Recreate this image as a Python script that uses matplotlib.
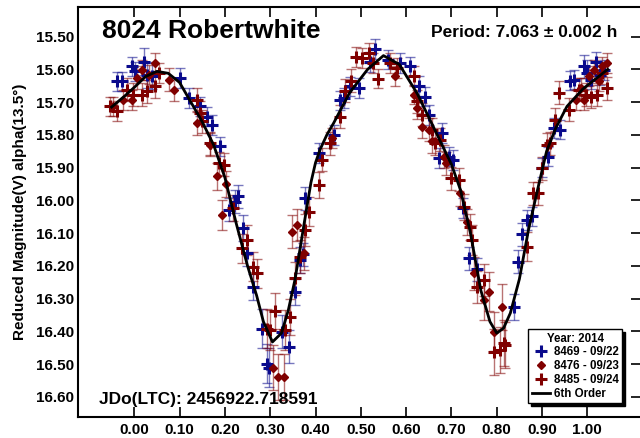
import matplotlib
matplotlib.use('Agg')
import matplotlib.pyplot as plt

plt.rcParams['font.family'] = ['Liberation Sans', 'DejaVu Sans']
plt.rcParams['font.weight'] = 'bold'

# session 8469 - 09/22 (blue crosses)
b_ph = [-0.038, -0.027, -0.005, 0.002, 0.021, 0.028, 0.039, 0.100, 0.120, 0.146, 0.160, 0.172, 0.190,
        0.208, 0.223, 0.230, 0.241, 0.249, 0.263, 0.282, 0.293, 0.298, 0.326, 0.341, 0.355, 0.366, 0.372, 0.377,
        0.407, 0.440, 0.455, 0.462, 0.477, 0.497, 0.521, 0.532, 0.561, 0.587, 0.609, 0.628, 0.642, 0.650, 0.679, 0.672, 0.694, 0.703, 0.725,
        0.739, 0.756, 0.837, 0.848, 0.856, 0.867, 0.878, 0.900, 0.913, 0.926, 0.940, 0.962, 0.970, 0.992, 1.000, 1.007, 1.018, 1.027, 1.036]
b_mag = [15.637, 15.637, 15.591, 15.606, 15.576, 15.616, 15.621, 15.626, 15.687, 15.713, 15.744, 15.769, 15.835,
         16.029, 16.004, 15.988, 16.085, 16.161, 16.264, 16.391, 16.498, 16.510, 16.401, 16.447, 16.279, 16.182, 16.165, 15.993,
         15.856, 15.800, 15.695, 15.687, 15.652, 15.657, 15.578, 15.537, 15.570, 15.581, 15.591, 15.650, 15.683, 15.739, 15.795, 15.871, 15.866, 15.876, 16.024,
         16.177, 16.210, 16.325, 16.187, 16.103, 16.060, 16.049, 15.900, 15.866, 15.779, 15.784, 15.634, 15.631, 15.590, 15.611, 15.631, 15.576, 15.618, 15.601]
b_err = [0.03, 0.03, 0.03, 0.03, 0.04, 0.04, 0.04, 0.03, 0.03, 0.03, 0.03, 0.03, 0.03,
         0.035, 0.035, 0.035, 0.04, 0.04, 0.04, 0.06, 0.06, 0.06, 0.05, 0.05, 0.04, 0.04, 0.035, 0.035,
         0.03, 0.03, 0.03, 0.03, 0.03, 0.03, 0.03, 0.03, 0.03, 0.03, 0.03, 0.03, 0.03, 0.03, 0.03, 0.03, 0.03, 0.03, 0.03,
         0.035, 0.035, 0.04, 0.035, 0.035, 0.03, 0.03, 0.03, 0.03, 0.03, 0.03, 0.03, 0.03, 0.035, 0.04, 0.03, 0.03, 0.03, 0.03]

# session 8476 - 09/23 (diamonds)
d_ph = [-0.046, -0.024, -0.005, 0.006, 0.017, 0.032, 0.046, 0.076, 0.087, 0.138, 0.168, 0.183, 0.194, 0.203,
        0.306, 0.318, 0.330, 0.348, 0.359, 0.374,
        0.436, 0.576, 0.617, 0.624, 0.635, 0.650, 0.657, 0.683, 0.687, 0.720, 0.734,
        0.749, 0.771, 0.782, 0.793, 0.812,
        0.974, 0.985, 0.992, 1.003, 1.014, 1.025, 1.032, 1.043]
d_mag = [15.713, 15.693, 15.693, 15.626, 15.601, 15.616, 15.581, 15.631, 15.662, 15.764, 15.830, 15.927, 16.044, 15.950,
         16.510, 16.539, 16.539, 16.095, 16.075, 16.161,
         15.810, 15.621, 15.677, 15.718, 15.776, 15.784, 15.820, 15.866, 15.886, 15.978, 16.065,
         16.223, 16.304, 16.279, 16.401, 16.325,
         15.693, 15.657, 15.693, 15.621, 15.601, 15.637, 15.591, 15.581]
d_err = [0.03, 0.03, 0.03, 0.035, 0.03, 0.03, 0.03, 0.035, 0.035, 0.035, 0.035, 0.04, 0.045, 0.04,
         0.07, 0.07, 0.07, 0.05, 0.05, 0.05,
         0.03, 0.03, 0.03, 0.035, 0.035, 0.035, 0.035, 0.035, 0.035, 0.04, 0.04,
         0.05, 0.06, 0.06, 0.06, 0.07,
         0.03, 0.03, 0.03, 0.03, 0.03, 0.03, 0.03, 0.03]

# session 8485 - 09/24 (red crosses)
r_ph = [-0.053, -0.038, -0.016, -0.002, 0.017, 0.028, 0.046, 0.054, 0.138, 0.146, 0.149, 0.168, 0.186, 0.197, 0.219,
        0.238, 0.249, 0.263, 0.271, 0.293, 0.300, 0.311, 0.333, 0.344, 0.355, 0.366, 0.377, 0.385, 0.407,
        0.414, 0.433, 0.453, 0.466, 0.479, 0.490, 0.503, 0.517, 0.528, 0.539, 0.565, 0.580, 0.617, 0.624, 0.635, 0.657, 0.664, 0.675, 0.698, 0.716, 0.727, 0.742,
        0.745, 0.756, 0.771, 0.793, 0.808, 0.815, 0.819, 0.867,
        0.881, 0.892, 0.900, 0.911, 0.918, 0.929, 0.937, 0.959, 0.981, 0.996, 1.007, 1.021, 1.032, 1.043]
r_mag = [15.713, 15.728, 15.662, 15.677, 15.677, 15.667, 15.652, 15.611, 15.693, 15.733, 15.759, 15.825, 15.886, 15.891, 16.024,
         16.146, 16.121, 16.202, 16.223, 16.391, 16.396, 16.337, 16.396, 16.355, 16.238, 16.172, 16.090, 16.034, 15.953,
         15.876, 15.825, 15.744, 15.665, 15.634, 15.562, 15.565, 15.550, 15.580, 15.628, 15.580, 15.596, 15.621, 15.698, 15.739, 15.784, 15.825, 15.815, 15.932, 15.937, 16.019, 16.080,
         16.121, 16.264, 16.243, 16.462, 16.457, 16.435, 16.442, 16.141,
         15.978, 15.978, 15.902, 15.830, 15.825, 15.754, 15.672, 15.723, 15.662, 15.677, 15.683, 15.677, 15.611, 15.657]
r_err = [0.03, 0.03, 0.035, 0.035, 0.035, 0.035, 0.035, 0.03, 0.035, 0.035, 0.035, 0.035, 0.035, 0.035, 0.04,
         0.045, 0.045, 0.045, 0.045, 0.06, 0.06, 0.055, 0.06, 0.055, 0.05, 0.05, 0.05, 0.045, 0.04,
         0.035, 0.035, 0.035, 0.035, 0.035, 0.03, 0.03, 0.03, 0.03, 0.03, 0.03, 0.03, 0.03, 0.035, 0.035, 0.035, 0.035, 0.035, 0.035, 0.035, 0.04, 0.04,
         0.045, 0.05, 0.05, 0.07, 0.07, 0.07, 0.07, 0.045,
         0.035, 0.035, 0.035, 0.035, 0.035, 0.035, 0.035, 0.035, 0.035, 0.035, 0.035, 0.035, 0.035, 0.035]

# 6th order Fourier fit
fit_ph = [-0.05, -0.02, 0.00, 0.025, 0.05, 0.075, 0.10, 0.125, 0.15, 0.175, 0.20, 0.225, 0.25, 0.27, 0.285,
          0.305, 0.325, 0.34, 0.355, 0.375, 0.39, 0.40, 0.41, 0.425, 0.44, 0.475, 0.515, 0.55, 0.585, 0.625, 0.66, 0.70,
          0.72, 0.742, 0.765, 0.785, 0.80, 0.815, 0.83, 0.85, 0.87, 0.89, 0.91, 0.93, 0.955, 0.99, 1.045]
fit_mag = [15.715, 15.68, 15.655, 15.622, 15.606, 15.612, 15.64, 15.70, 15.76, 15.83, 15.93, 16.07, 16.20, 16.29, 16.37,
           16.432, 16.405, 16.335, 16.24, 16.07, 15.945, 15.885, 15.845, 15.80, 15.764, 15.672, 15.60, 15.558, 15.585, 15.675, 15.775, 15.89,
           15.968, 16.10, 16.275, 16.37, 16.405, 16.39, 16.344, 16.24, 16.09, 15.968, 15.85, 15.78, 15.713, 15.66, 15.60]

xticks = [0.0, 0.1, 0.2, 0.3, 0.4, 0.5, 0.6, 0.7, 0.8, 0.9, 1.0]
yticks = [15.5, 15.6, 15.7, 15.8, 15.9, 16.0, 16.1, 16.2, 16.3, 16.4, 16.5, 16.6]

blue = '#0a0a8c'
red = '#800000'

fig = plt.figure(figsize=(6.4, 4.38), dpi=100)
ax = fig.add_axes([0.122, 0.048, 0.880, 0.935])

ax.errorbar(b_ph, b_mag, yerr=b_err, fmt='none', ecolor=blue, alpha=0.55, elinewidth=1, capsize=3.5, capthick=1)
ax.errorbar(d_ph, d_mag, yerr=d_err, fmt='none', ecolor=red, alpha=0.55, elinewidth=1, capsize=3.5, capthick=1)
ax.errorbar(r_ph, r_mag, yerr=r_err, fmt='none', ecolor=red, alpha=0.55, elinewidth=1, capsize=3.5, capthick=1)

ax.plot(b_ph, b_mag, '+', color=blue, ms=8.5, mew=2.2, label='8469 - 09/22')
ax.plot(d_ph, d_mag, 'D', color=red, ms=4.5, label='8476 - 09/23')
ax.plot(r_ph, r_mag, '+', color=red, ms=8.5, mew=2.2, label='8485 - 09/24')
ax.plot(fit_ph, fit_mag, '-', color='black', lw=2, label='6th Order', zorder=5)

ax.set_xlim(-0.124, 1.119)
ax.set_ylim(16.661, 15.411)
ax.set_xticks(xticks)
ax.set_xticklabels([f'{t:.2f}' for t in xticks])
ax.set_yticks(yticks)
ax.set_yticklabels([f'{t:.2f}' for t in yticks])
ax.tick_params(axis='x', direction='in', top=True, bottom=True, length=7, width=1.2, labelsize=11, pad=4)
ax.tick_params(axis='y', direction='in', left=False, right=True, length=7, width=1.2, labelsize=11, pad=3)
for s in ax.spines.values():
    s.set_linewidth(1.5)

ax.set_ylabel('Reduced Magnitude(V) alpha(13.5°)', fontsize=11, fontweight='bold')
ax.yaxis.set_label_coords(-0.091, 0.5)

ax.text(0.042, 0.943, '8024 Robertwhite', transform=ax.transAxes, fontsize=19,
        fontweight='bold', ha='left', va='center')
ax.text(0.957, 0.940, 'Period: 7.063 ± 0.002 h', transform=ax.transAxes, fontsize=12.5,
        fontweight='bold', ha='right', va='center')
ax.text(0.038, 0.042, 'JDo(LTC): 2456922.718591', transform=ax.transAxes, fontsize=12.5,
        fontweight='bold', ha='left', va='center')

leg = ax.legend(loc='lower right', bbox_to_anchor=(0.966, 0.034), borderaxespad=0,
                title='Year: 2014', fontsize=8.3, title_fontproperties={'weight': 'bold', 'size': 8.3},
                handlelength=1.6, handletextpad=0.3, labelspacing=0.15, borderpad=0.3,
                fancybox=False, edgecolor='black', framealpha=1,
                shadow={'color': 'black', 'alpha': 1})
leg.get_frame().set_linewidth(1.0)

fig.savefig('out.png', dpi=100)
